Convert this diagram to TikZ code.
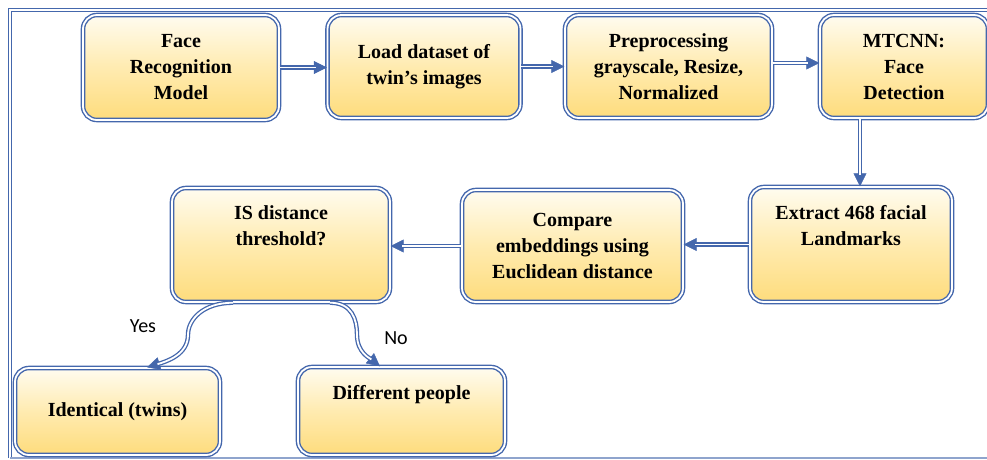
\documentclass[tikz,border=0pt]{standalone}
\usepackage{fontspec}
\setmainfont{Liberation Serif}
\newfontfamily\lblfont{Carlito}
\usetikzlibrary{arrows.meta}
\definecolor{bl}{HTML}{4467AC}
\definecolor{ftop}{HTML}{FFFCF0}
\definecolor{fmid}{HTML}{FFEBB0}
\definecolor{fbot}{HTML}{FEDC7C}
\tikzset{
  box/.style={draw=bl, double=white, double distance=1.8pt, line width=1.4pt,
    rounded corners=14pt, top color=ftop, bottom color=fbot, middle color=fmid,
    align=center, font=\fontsize{20}{26}\selectfont\bfseries, text=black,
    inner sep=2pt},
  tip/.style={draw=bl, line width=0.5pt, -{Triangle[length=13pt,width=13pt]}},
  shaft/.style={draw=bl, double=white, double distance=1.8pt, line width=1.3pt, shorten >=11pt},
  lbl/.style={font=\lblfont\fontsize{20}{22}\selectfont, text=black}
}
\begin{document}
\begin{tikzpicture}[x=1pt,y=-1pt]
\useasboundingbox (0,0) rectangle (987,459);
% frame
\draw[draw=bl, double=white, double distance=1.6pt, line width=1.4pt] (995,10) -- (10,10) -- (10,458);
\draw[draw=bl!60, line width=1.5pt] (10,458) -- (995,458);
% boxes
\node[box, minimum width=196pt, minimum height=105pt] (b1) at (181,67.5) {Face\\Recognition\\Model};
\node[box, minimum width=193pt, minimum height=103pt] (b2) at (424,66.5) {Load dataset of\\twin's images};
\node[box, minimum width=207pt, minimum height=103pt] (b3) at (668.5,66.5) {Preprocessing\\grayscale, Resize,\\Normalized};
\node[box, minimum width=168pt, minimum height=103pt] (b4) at (904,66.5) {MTCNN:\\Face\\Detection};
\node[box, minimum width=202pt, minimum height=115pt] (b5) at (851,244.5) {Extract 468 facial\\Landmarks\\[12pt]};
\node[box, minimum width=221pt, minimum height=112pt] (b6) at (572.5,246) {Compare\\embeddings using\\Euclidean distance};
\node[box, minimum width=218pt, minimum height=114pt] (b7) at (281,245) {IS distance\\threshold?\\[12pt]};
\node[box, minimum width=205pt, minimum height=87pt] (b8) at (117.5,411.5) {Identical (twins)};
\node[box, minimum width=207pt, minimum height=88pt] (b9) at (401.5,411) {Different people\\[12pt]};
% arrows
\foreach \s in {tip,shaft}{
  \draw[\s] (b1.east) -- (b1.east -| b2.west);
  \draw[\s] (b2.east) -- (b2.east -| b3.west);
  \draw[\s] ([yshift=3.5pt]b3.east) -- ([yshift=3.5pt]b3.east -| b4.west);
  \draw[\s] ([xshift=9pt]b5.north |- b4.south) -- ([xshift=9pt]b5.north);
  \draw[\s] (b5.west) -- (b5.west -| b6.east);
  \draw[\s] (b6.west) -- (b6.west -| b7.east);
}
\coordinate (ys) at ([xshift=-48pt]b7.south);
\coordinate (ye) at ([xshift=29.5pt]b8.north);
\coordinate (ns) at ([xshift=49pt]b7.south);
\coordinate (ne) at ([xshift=-21.5pt]b9.north);
\foreach \s in {tip,shaft}{
  \draw[\s] (ys) .. controls +(-30,0) and +(0,-15) .. ([xshift=-45pt,yshift=-32pt]ys) .. controls +(0,20) and +(20,-6) .. (ye);
  \draw[\s] (ns) .. controls +(22,0) and +(0,-15) .. ([xshift=27pt,yshift=-32pt]ns) .. controls +(0,18) and +(-10,-8) .. (ne);
}
\node[lbl] (yes) at (143,326) {Yes};
\node[lbl] (no) at (396,338) {No};
\end{tikzpicture}
\end{document}
